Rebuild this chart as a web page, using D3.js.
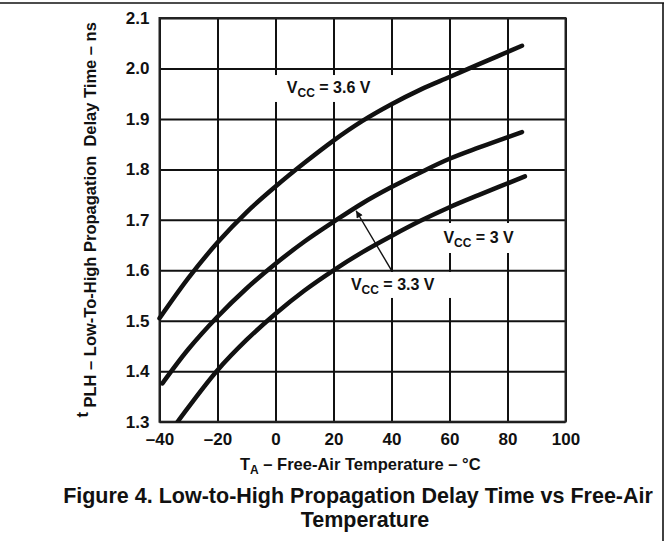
<!DOCTYPE html>
<html>
<head>
<meta charset="utf-8">
<script src="https://cdn.jsdelivr.net/npm/d3@7"></script>
<style>
  body { margin: 0; background: #fff; }
  svg { display: block; font-family: "Liberation Sans", Arial, Helvetica, sans-serif; font-weight: bold; }
  .tick text { font-size: 17px; font-weight: bold; fill: #111; }
</style>
</head>
<body>
<div id="chart"></div>
<script>
// curve readings (temperature in °C, delay in ns)
const temps36 = [-40, -30, -20, -10, 0, 10, 20, 30, 40, 50, 60, 70, 85];
const delay36 = [1.505, 1.585, 1.655, 1.715, 1.766, 1.813, 1.857, 1.896, 1.929, 1.958, 1.983, 2.008, 2.045];
const temps33 = [-39, -30, -20, -10, 0, 10, 20, 30, 40, 50, 60, 70, 85];
const delay33 = [1.376, 1.444, 1.508, 1.564, 1.613, 1.657, 1.696, 1.733, 1.765, 1.794, 1.821, 1.843, 1.874];
const temps30 = [-34, -30, -20, -10, 0, 10, 20, 30, 40, 50, 60, 70, 86];
const delay30 = [1.298, 1.329, 1.402, 1.462, 1.514, 1.56, 1.6, 1.636, 1.668, 1.698, 1.725, 1.749, 1.786];

const xTicks = [-40, -20, 0, 20, 40, 60, 80, 100];
const yTicks = [1.3, 1.4, 1.5, 1.6, 1.7, 1.8, 1.9, 2.0, 2.1];

const width = 669;
const height = 541;
const plotL = 159.5, plotR = 565.5, plotT = 18, plotB = 421.7;

const svg = d3.select("#chart")
  .append("svg")
  .attr("width", width)
  .attr("height", height);

// outer page rules
svg.append("line").attr("x1", 0).attr("x2", 664).attr("y1", 3).attr("y2", 3)
  .attr("stroke", "#111").attr("stroke-width", 1.6);
svg.append("line").attr("x1", 663).attr("x2", 663).attr("y1", 3).attr("y2", height)
  .attr("stroke", "#111").attr("stroke-width", 1.6);

const x = d3.scaleLinear().domain([-40, 100]).range([plotL, plotR]);
const y = d3.scaleLinear().domain([1.3, 2.1]).range([plotB, plotT]);

svg.append("g")
  .attr("transform", `translate(0,${plotB})`)
  .call(d3.axisBottom(x)
    .tickValues(xTicks)
    .tickSize(-(plotB - plotT))
    .tickPadding(11)
    .tickFormat(d => d < 0 ? "\u2013" + Math.abs(d) : d));

svg.append("g")
  .attr("transform", `translate(${plotL},0)`)
  .call(d3.axisLeft(y)
    .tickValues(yTicks)
    .tickSize(-(plotR - plotL))
    .tickPadding(10)
    .tickFormat(d3.format(".1f")));

svg.selectAll(".domain").remove();
svg.selectAll(".tick line").attr("stroke", "#111").attr("stroke-width", 2);

// label boxes cut the grid
const labels = [
  { v: "3.6", tx: 3.9, ty: 1.951, box: [-2.6, 1.987, 42.9, 1.9336] },
  { v: "3", tx: 57.9, ty: 1.6535, box: [55.7, 1.6938, 84.7, 1.6343] },
  { v: "3.3", tx: 26.0, ty: 1.561, box: [23.3, 1.5967, 62.2, 1.5452] }
];

svg.append("g")
  .selectAll("rect")
  .data(labels)
  .join("rect")
  .attr("x", d => x(d.box[0]))
  .attr("y", d => y(d.box[1]))
  .attr("width", d => x(d.box[2]) - x(d.box[0]))
  .attr("height", d => y(d.box[3]) - y(d.box[1]))
  .attr("fill", "#fff");

// plot frame
svg.append("rect")
  .attr("x", plotL).attr("y", plotT)
  .attr("width", plotR - plotL).attr("height", plotB - plotT)
  .attr("fill", "none").attr("stroke", "#222").attr("stroke-width", 2);

svg.append("clipPath").attr("id", "clip")
  .append("rect")
  .attr("x", plotL - 3).attr("y", plotT)
  .attr("width", plotR - plotL + 3).attr("height", plotB - plotT);

const line = d3.line()
  .x(d => x(d[0]))
  .y(d => y(d[1]))
  .curve(d3.curveCatmullRom.alpha(0.5));

const series = [
  d3.zip(temps36, delay36),
  d3.zip(temps33, delay33),
  d3.zip(temps30, delay30)
];

svg.append("g")
  .attr("clip-path", "url(#clip)")
  .selectAll("path")
  .data(series)
  .join("path")
  .attr("d", line)
  .attr("fill", "none")
  .attr("stroke", "#111")
  .attr("stroke-width", 4.5)
  .attr("stroke-linecap", "round");

// arrow from 3.3 V label to its curve
svg.append("defs").append("marker")
  .attr("id", "head")
  .attr("viewBox", "0 0 10 10")
  .attr("refX", 10).attr("refY", 5)
  .attr("markerWidth", 10).attr("markerHeight", 7)
  .attr("markerUnits", "userSpaceOnUse")
  .attr("orient", "auto")
  .append("path")
  .attr("d", "M0,0L10,5L0,10z")
  .attr("fill", "#111");

svg.append("line")
  .attr("x1", x(40)).attr("y1", y(1.6))
  .attr("x2", x(27.8)).attr("y2", y(1.718))
  .attr("stroke", "#111")
  .attr("stroke-width", 1.4)
  .attr("marker-end", "url(#head)");

const lab = svg.append("g")
  .selectAll("text")
  .data(labels)
  .join("text")
  .attr("x", d => x(d.tx))
  .attr("y", d => y(d.ty))
  .attr("font-size", 16)
  .attr("fill", "#111");
lab.append("tspan").text("V");
lab.append("tspan").attr("font-size", 12).attr("dy", 4).text("CC");
lab.append("tspan").attr("dy", -4).text(d => " = " + d.v + " V");

// axis titles
const yTitle = svg.append("text")
  .attr("transform", `translate(96,${(plotT + plotB) / 2}) rotate(-90)`)
  .attr("text-anchor", "middle")
  .attr("font-size", 16.5)
  .attr("fill", "#111")
  .attr("xml:space", "preserve");
yTitle.append("tspan").attr("dy", -8).text("t");
yTitle.append("tspan").attr("dy", 8).text(" PLH \u2013 Low-To-High Propagation  Delay Time \u2013 ns");

const xTitle = svg.append("text")
  .attr("x", 240)
  .attr("y", 470)
  .attr("font-size", 16.5)
  .attr("fill", "#111");
xTitle.append("tspan").text("T");
xTitle.append("tspan").attr("font-size", 12).attr("dy", 4).text("A");
xTitle.append("tspan").attr("dy", -4).text(" \u2013 Free-Air Temperature \u2013 \u00b0C");

// figure caption
svg.append("text")
  .attr("x", 358).attr("y", 502.5)
  .attr("text-anchor", "middle")
  .attr("font-size", 21.5)
  .attr("fill", "#111")
  .text("Figure 4. Low-to-High Propagation Delay Time vs Free-Air");
svg.append("text")
  .attr("x", 365).attr("y", 527)
  .attr("text-anchor", "middle")
  .attr("font-size", 21.5)
  .attr("fill", "#111")
  .text("Temperature");
</script>
</body>
</html>
